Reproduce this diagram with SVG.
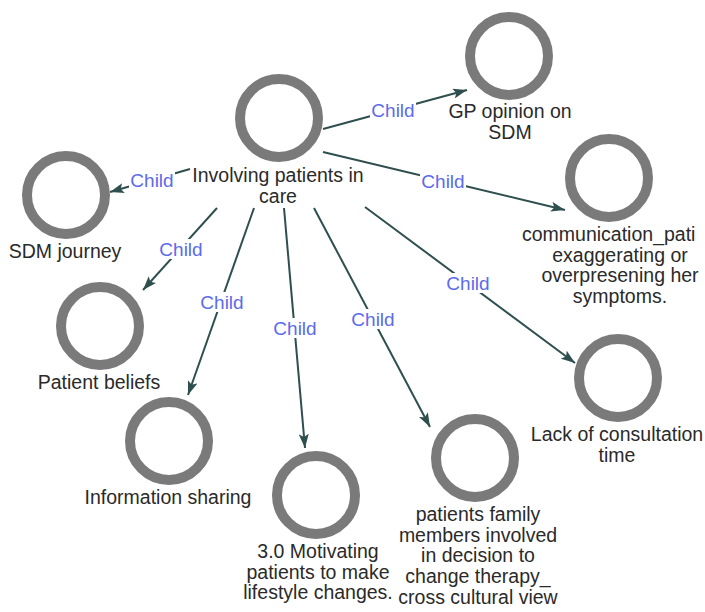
<svg xmlns="http://www.w3.org/2000/svg" width="705" height="612" viewBox="0 0 705 612">
  <defs>
    <style>
      .ring { fill: #ffffff; stroke: #7a7a7a; stroke-width: 10; }
      .lbl { font-family: "Liberation Sans", Arial, sans-serif; font-size: 19.5px; fill: #2a2a2a; text-anchor: middle; }
      .lbl-start { text-anchor: start; }
      .edge { stroke: #2f4f4f; stroke-width: 2; fill: none; marker-end: url(#arrow); }
      .elbl { font-family: "Liberation Sans", Arial, sans-serif; font-size: 19px; fill: #5b6bec; text-anchor: middle; }
      .ebg { fill: #ffffff; }
    </style>
    <marker id="arrow" viewBox="0 0 14 10" refX="14" refY="5" markerWidth="14" markerHeight="10" markerUnits="userSpaceOnUse" orient="auto">
      <path d="M0,0 L14,5 L0,10 L3,5 Z" fill="#2f4f4f"/>
    </marker>
  </defs>

  <rect width="705" height="612" fill="#ffffff"/>

  <!-- connectors: parent to each child, label breaks the line -->
  <g id="connectors">
    <line class="edge" x1="190" y1="169" x2="110" y2="192"/>
    <line class="edge" x1="217" y1="208" x2="143" y2="290"/>
    <line class="edge" x1="254" y1="208" x2="188" y2="395"/>
    <line class="edge" x1="284" y1="208" x2="305" y2="448"/>
    <line class="edge" x1="314" y1="208" x2="430" y2="427"/>
    <line class="edge" x1="365" y1="207" x2="575" y2="363"/>
    <line class="edge" x1="323" y1="152" x2="565" y2="210"/>
    <line class="edge" x1="323" y1="129" x2="467" y2="90"/>

    <rect class="ebg" x="129" y="170" width="46" height="20"/>
    <text class="elbl" x="152" y="187">Child</text>
    <rect class="ebg" x="158" y="239" width="46" height="20"/>
    <text class="elbl" x="181" y="256">Child</text>
    <rect class="ebg" x="199" y="292" width="46" height="20"/>
    <text class="elbl" x="222" y="309">Child</text>
    <rect class="ebg" x="272" y="318" width="46" height="20"/>
    <text class="elbl" x="295" y="335">Child</text>
    <rect class="ebg" x="350" y="309" width="46" height="20"/>
    <text class="elbl" x="373" y="326">Child</text>
    <rect class="ebg" x="445" y="273" width="46" height="20"/>
    <text class="elbl" x="468" y="290">Child</text>
    <rect class="ebg" x="420" y="171" width="46" height="20"/>
    <text class="elbl" x="443" y="188">Child</text>
    <rect class="ebg" x="370" y="100" width="46" height="20"/>
    <text class="elbl" x="393" y="117">Child</text>
  </g>

  <g id="involving-patients">
    <circle class="ring" cx="279" cy="118" r="39"/>
    <text class="lbl" x="278" y="182">Involving patients in</text>
    <text class="lbl" x="278" y="203">care</text>
  </g>

  <g id="gp-opinion">
    <circle class="ring" cx="509" cy="56" r="39"/>
    <text class="lbl" x="510" y="118">GP opinion on</text>
    <text class="lbl" x="510" y="139">SDM</text>
  </g>

  <g id="sdm-journey">
    <circle class="ring" cx="66" cy="195" r="39"/>
    <text class="lbl" x="65" y="258">SDM journey</text>
  </g>

  <g id="communication">
    <circle class="ring" cx="609" cy="178" r="39"/>
    <text class="lbl lbl-start" x="522" y="241">communication_pati</text>
    <text class="lbl" x="620" y="261.7">exaggerating or</text>
    <text class="lbl" x="620" y="282.4">overpresening her</text>
    <text class="lbl" x="620" y="303">symptoms.</text>
  </g>

  <g id="patient-beliefs">
    <circle class="ring" cx="100" cy="326" r="39"/>
    <text class="lbl" x="99" y="389">Patient beliefs</text>
  </g>

  <g id="information-sharing">
    <circle class="ring" cx="169" cy="441" r="39"/>
    <text class="lbl" x="168" y="504">Information sharing</text>
  </g>

  <g id="motivating-patients">
    <circle class="ring" cx="316" cy="495" r="39"/>
    <text class="lbl" x="318" y="558">3.0 Motivating</text>
    <text class="lbl" x="318" y="578.7">patients to make</text>
    <text class="lbl" x="318" y="599.4">lifestyle changes.</text>
  </g>

  <g id="family-members">
    <circle class="ring" cx="475" cy="458" r="39"/>
    <text class="lbl" x="478" y="521">patients family</text>
    <text class="lbl" x="478" y="541.7">members involved</text>
    <text class="lbl" x="478" y="562.4">in decision to</text>
    <text class="lbl" x="478" y="583.1">change therapy_</text>
    <text class="lbl" x="478" y="603.8">cross cultural view</text>
  </g>

  <g id="consultation-time">
    <circle class="ring" cx="618" cy="378" r="39"/>
    <text class="lbl" x="617" y="441">Lack of consultation</text>
    <text class="lbl" x="617" y="461.7">time</text>
  </g>
</svg>
